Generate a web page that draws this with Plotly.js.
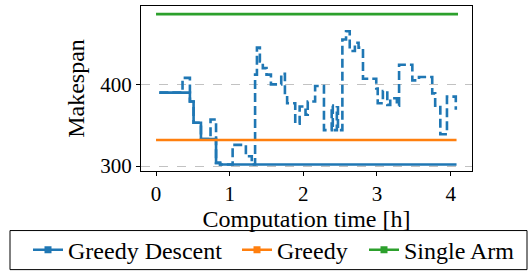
<!DOCTYPE html>
<html>
<head>
<meta charset="utf-8">
<script src="https://cdn.plot.ly/plotly-3.0.1.min.js"></script>
<style>
html,body{margin:0;padding:0;background:#fff;}
#chart{width:530px;height:278px;}
</style>
</head>
<body>
<div id="chart"></div>
<script>
// Greedy Descent: best-so-far (solid step line)
const bestTime  = [0.045, 0.46, 0.51, 0.61, 0.815, 0.87, 4.08];
const bestValue = [390, 379, 353, 333, 304, 302, 302];

// Greedy Descent: current solution (dashed step line)
const curTime  = [0.045, 0.36, 0.46, 0.51, 0.61, 0.74, 0.815, 0.87, 1.04, 1.22, 1.30, 1.345, 1.37, 1.41, 1.45, 1.50, 1.56, 1.70, 1.75, 1.78, 1.89, 1.95, 2.03, 2.06, 2.16, 2.28, 2.385, 2.40, 2.455, 2.47, 2.53, 2.58, 2.63, 2.70, 2.75, 2.81, 2.99, 3.01, 3.08, 3.14, 3.18, 3.27, 3.30, 3.48, 3.57, 3.75, 3.79, 3.86, 3.95, 4.07];
const curValue = [390, 408, 379, 353, 333, 357, 304, 302, 326, 312, 302, 412, 445, 428, 420, 412, 400, 413, 386, 377, 352, 373, 363, 379, 398, 344, 374, 344, 372, 344, 455, 465, 441, 451, 445, 407, 395, 377, 392, 375, 383, 374, 424, 405, 409, 389, 374, 339, 385, 369];

// Baselines
const greedyTime = [0, 4.08];
const greedyValue = [332, 332];
const singleArmTime = [0, 4.10];
const singleArmValue = [486, 486];

const seriesNames = ["Greedy Descent", "Greedy", "Single Arm"];
const colors = ["#1f77b4", "#ff7f0e", "#2ca02c"];
const xTicks = [0, 1, 2, 3, 4];
const yTicks = [300, 400];

(function () {
  const FAM = "Liberation Serif";
  const L = 141, R = 472, T = 6, B = 175, W = 530, H = 278;
  const pw = R - L, ph = B - T;
  const fx = v => (v - L) / pw;
  const fy = v => (B - v) / ph;

  const traces = [
    {x: bestTime, y: bestValue, mode: "lines", line: {color: colors[0], width: 2.6, shape: "hv"}, showlegend: false},
    {x: curTime, y: curValue, mode: "lines", line: {color: colors[0], width: 2.6, shape: "hv", dash: "9px,4px"}, showlegend: false},
    {x: greedyTime, y: greedyValue, mode: "lines", line: {color: colors[1], width: 2.6}, showlegend: false},
    {x: singleArmTime, y: singleArmValue, mode: "lines", line: {color: colors[2], width: 2.6}, showlegend: false}
  ];
  const legendIds = ["legend", "legend2", "legend3"];
  seriesNames.forEach((n, i) => {
    traces.push({x: [null], y: [null], name: n, legend: legendIds[i], mode: "lines+markers", line: {color: colors[i], width: 2.6}, marker: {symbol: "square", size: 7, color: colors[i]}, showlegend: true});
  });

  const legendStarts = [28, 237, 364];
  const mkLegend = x0 => ({
    orientation: "h", x: fx(x0), xanchor: "left", y: fy(256), yanchor: "middle",
    font: {family: FAM, size: 24, color: "#000"}, bgcolor: "rgba(0,0,0,0)", borderwidth: 0
  });

  const layout = {
    width: W, height: H,
    margin: {l: L, r: W - R, t: T, b: H - B, pad: 0},
    paper_bgcolor: "#fff", plot_bgcolor: "#fff",
    font: {family: FAM, color: "#000"},
    xaxis: {
      range: [-0.204, 4.29], tickvals: xTicks, ticktext: xTicks.map(String),
      ticks: "outside", ticklen: 4, tickwidth: 1, tickcolor: "#000",
      showgrid: false, zeroline: false, showline: true, mirror: true, linecolor: "#000", linewidth: 1,
      tickfont: {family: FAM, size: 21, color: "#000"},
      title: {text: "Computation time [h]", font: {family: FAM, size: 24, color: "#000"}, standoff: 4}
    },
    yaxis: {
      range: [294, 496], tickvals: yTicks, ticktext: yTicks.map(String),
      ticks: "outside", ticklen: 4, tickwidth: 1, tickcolor: "#000",
      showgrid: true, gridcolor: "#999", gridwidth: 0.6, griddash: "dash",
      zeroline: false, showline: true, mirror: true, linecolor: "#000", linewidth: 1,
      tickfont: {family: FAM, size: 21, color: "#000"},
      title: {text: "Makespan", font: {family: FAM, size: 24, color: "#000"}, standoff: 8}
    },
    legend: mkLegend(legendStarts[0]),
    legend2: mkLegend(legendStarts[1]),
    legend3: mkLegend(legendStarts[2]),
    shapes: [{type: "rect", xref: "paper", yref: "paper", x0: fx(10), x1: fx(527), y0: fy(276), y1: fy(236), line: {color: "#000", width: 1}, fillcolor: "rgba(0,0,0,0)"}],
    showlegend: true
  };

  Plotly.newPlot("chart", traces, layout, {displayModeBar: false, staticPlot: true}).then(gd => {
    gd.querySelectorAll("text").forEach(t => t.style.setProperty("font-family", "'Liberation Serif'", "important"));
  });
})();
</script>
</body>
</html>
